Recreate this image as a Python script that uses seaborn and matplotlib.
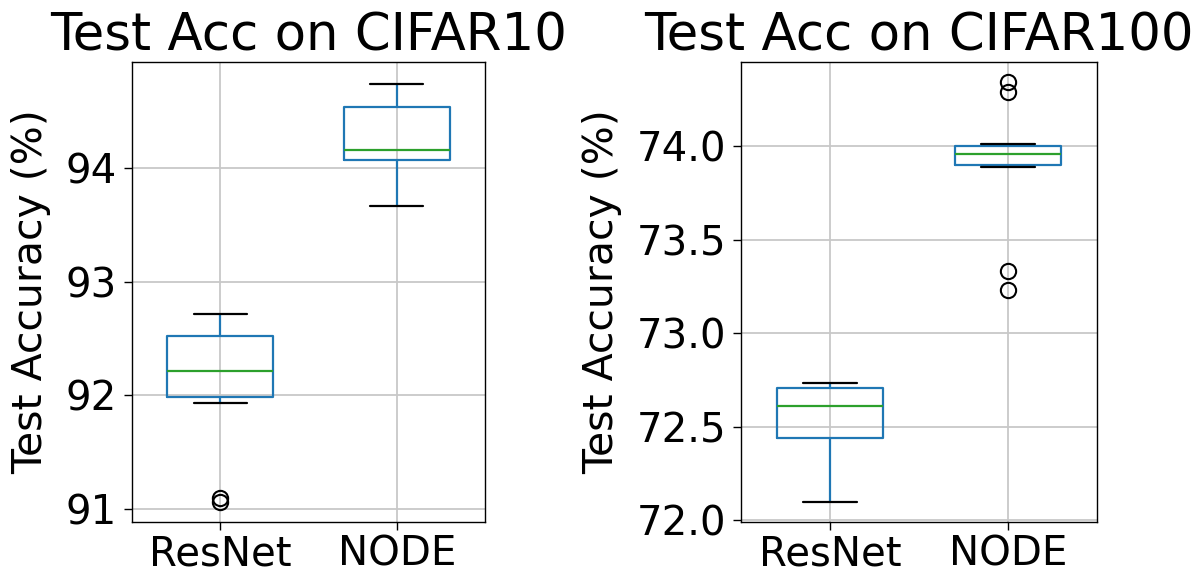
import numpy as np
import pandas as pd
import matplotlib
matplotlib.use("Agg")
import matplotlib.pyplot as plt
import seaborn as sns

# ---- data (test accuracy, %) ----
models = ["ResNet", "NODE"]
cifar10_resnet = [91.06, 91.09, 91.93, 92.13, 92.18, 92.24, 92.45, 92.55, 92.62, 92.72]
cifar10_node = [93.67, 93.95, 94.05, 94.13, 94.14, 94.18, 94.50, 94.56, 94.62, 94.74]
cifar100_resnet = [72.10, 72.30, 72.42, 72.50, 72.58, 72.64, 72.70, 72.713, 72.72, 72.736]
cifar100_node = [73.23, 73.33, 73.89, 73.903, 73.93, 73.95, 73.962, 73.98, 73.997, 74.01, 74.286, 74.342]
titles = ["Test Acc on CIFAR10", "Test Acc on CIFAR100"]
ylabel = "Test Accuracy (%)"

sns.set_style("ticks")
plt.rcParams["font.family"] = ["DejaVu Sans"]
plt.rcParams["text.color"] = "black"
plt.rcParams["axes.labelcolor"] = "black"
plt.rcParams["xtick.color"] = "black"
plt.rcParams["ytick.color"] = "black"

fig = plt.figure(figsize=(12.02, 5.74), dpi=100)
ax1 = fig.add_axes([0.1096, 0.0901, 0.2939, 0.8024])
ax2 = fig.add_axes([0.6167, 0.0901, 0.2957, 0.8024])

BLUE = "#1f77b4"
GREEN = "#2ca02c"


def draw(ax, a, b, title, ylim):
    df = pd.DataFrame({
        "model": [models[0]] * len(a) + [models[1]] * len(b),
        "acc": list(a) + list(b),
    })
    sns.boxplot(
        data=df, x="model", y="acc", ax=ax, order=models, width=0.6,
        fill=False, color=BLUE, linewidth=1.6, whis=1.5, fliersize=11,
        boxprops=dict(color=BLUE),
        whiskerprops=dict(color=BLUE),
        capprops=dict(color="black"),
        medianprops=dict(color=GREEN),
        flierprops=dict(marker="o", markerfacecolor="none",
                        markeredgecolor="black", markeredgewidth=1.5),
    )
    ax.set_ylim(*ylim)
    ax.set_xlim(-0.5, 1.5)
    ax.set_xlabel("")
    ax.set_ylabel(ylabel, fontsize=29.5, labelpad=10, color="black")
    ax.set_title(title, fontsize=37, pad=8, color="black")
    ax.grid(True, color="#c8c8c8", linewidth=1.3)
    ax.set_axisbelow(True)
    for s in ax.spines.values():
        s.set_visible(True)
        s.set_color("black")
        s.set_linewidth(1.0)
    ax.tick_params(labelsize=29, length=6, width=1, color="black",
                   labelcolor="black")
    ax.tick_params(axis="x", pad=3)
    ax.tick_params(axis="y", pad=5)


draw(ax1, cifar10_resnet, cifar10_node, titles[0], (90.88, 94.94))
draw(ax2, cifar100_resnet, cifar100_node, titles[1], (71.99, 74.45))
ax1.set_yticks([91, 92, 93, 94])
ax2.set_yticks([72.0, 72.5, 73.0, 73.5, 74.0])

fig.savefig("out.png", dpi=100)
